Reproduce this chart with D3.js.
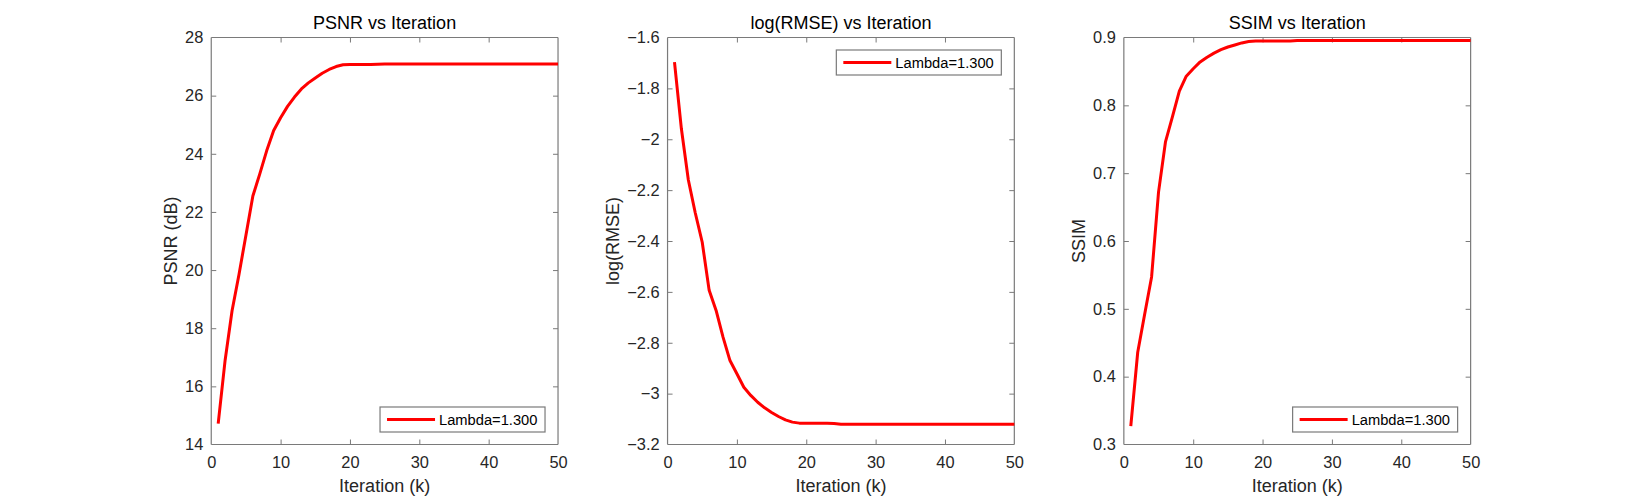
<!DOCTYPE html>
<html>
<head>
<meta charset="utf-8">
<script src="https://cdn.jsdelivr.net/npm/d3@7"></script>
<style>
  html, body { margin: 0; padding: 0; background: #fff; }
  svg { display: block; font-family: "Liberation Sans", Arial, Helvetica, sans-serif; }
</style>
</head>
<body>
<div id="chart"></div>
<script>
// iterations k = 1..50
var iterations = d3.range(1, 51)

var psnr = [14.72, 16.9, 18.6, 19.85, 21.2, 22.55, 23.31, 24.11, 24.8, 25.24,
    25.63, 25.95, 26.23, 26.44, 26.61, 26.77, 26.9, 27.0, 27.06, 27.07,
    27.07, 27.07, 27.07, 27.08, 27.09, 27.09, 27.09, 27.09, 27.09, 27.09,
    27.09, 27.09, 27.09, 27.09, 27.09, 27.09, 27.09, 27.09, 27.09, 27.09,
    27.09, 27.09, 27.09, 27.09, 27.09, 27.09, 27.09, 27.09, 27.09, 27.09]

var logRmse = [-1.697, -1.96, -2.16, -2.29, -2.405, -2.594, -2.673, -2.778, -2.87, -2.922,
    -2.975, -3.007, -3.034, -3.056, -3.074, -3.09, -3.103, -3.112, -3.116, -3.116,
    -3.116, -3.116, -3.116, -3.117, -3.12, -3.12, -3.12, -3.12, -3.12, -3.12,
    -3.12, -3.12, -3.12, -3.12, -3.12, -3.12, -3.12, -3.12, -3.12, -3.12,
    -3.12, -3.12, -3.12, -3.12, -3.12, -3.12, -3.12, -3.12, -3.12, -3.12]

var ssim = [0.327, 0.436, 0.492, 0.547, 0.672, 0.746, 0.783, 0.821, 0.843, 0.854,
    0.864, 0.871, 0.877, 0.882, 0.886, 0.889, 0.892, 0.894, 0.895, 0.895,
    0.895, 0.895, 0.895, 0.895, 0.8955, 0.8955, 0.8955, 0.8955, 0.8955, 0.8955,
    0.8955, 0.8955, 0.8955, 0.8955, 0.8955, 0.8955, 0.8955, 0.8955, 0.8955, 0.8955,
    0.8955, 0.8955, 0.8955, 0.8955, 0.8955, 0.8955, 0.8955, 0.8955, 0.8955, 0.8955]

var titles = ['PSNR vs Iteration', 'log(RMSE) vs Iteration', 'SSIM vs Iteration']
var yLabels = ['PSNR (dB)', 'log(RMSE)', 'SSIM']
var xLabel = 'Iteration (k)'
var xTicks = [0, 10, 20, 30, 40, 50]
var yDomains = [[14, 28], [-3.2, -1.6], [0.3, 0.9]]
var yTicks = [
    [14, 16, 18, 20, 22, 24, 26, 28],
    [-3.2, -3, -2.8, -2.6, -2.4, -2.2, -2, -1.8, -1.6],
    [0.3, 0.4, 0.5, 0.6, 0.7, 0.8, 0.9]
]
var legendLabel = 'Lambda=1.300'
var legendPlace = ['bottom', 'top', 'bottom']

var width = 1625, height = 500
var axisColor = '#7a7a7a', textColor = '#262626'

var panels = [psnr, logRmse, ssim].map(function (vals, i) {
    return {
        title: titles[i],
        ylabel: yLabels[i],
        domain: yDomains[i],
        ticks: yTicks[i],
        legend: legendPlace[i],
        values: vals.map(function (v, j) { return { k: iterations[j], v: v } })
    }
})

// matlab-like subplot positions
var lefts = [0.13, 0.4108, 0.6916].map(function (f) { return f * width })
var pw = 0.2134 * width
var plotTop = 37.5, plotBottom = 444.5

var svg = d3.select('#chart')
    .append('svg')
    .attr('width', width)
    .attr('height', height)

svg.selectAll('.panel')
    .data(panels)
    .join('g')
    .attr('class', 'panel')
    .attr('transform', function (d, i) { return 'translate(' + lefts[i] + ',0)' })
    .each(function (d) {
        var g = d3.select(this)

        var x = d3.scaleLinear().domain([0, 50]).range([0, pw])
        var y = d3.scaleLinear().domain(d.domain).range([plotBottom, plotTop])

        // bottom axis + labels
        var xAxis = g.append('g')
            .attr('transform', 'translate(0,' + plotBottom + ')')
            .call(d3.axisBottom(x).tickValues(xTicks).tickSize(-5).tickPadding(12).tickFormat(d3.format('d')))
        // top ticks
        var xTop = g.append('g')
            .attr('transform', 'translate(0,' + plotTop + ')')
            .call(d3.axisTop(x).tickValues(xTicks).tickSize(-5).tickFormat(''))
        // left axis
        var yAxis = g.append('g')
            .call(d3.axisLeft(y).tickValues(d.ticks).tickSize(-5).tickPadding(8).tickFormat(d3.format('')))
        // right ticks
        var yRight = g.append('g')
            .attr('transform', 'translate(' + pw + ',0)')
            .call(d3.axisRight(y).tickValues(d.ticks).tickSize(-5).tickFormat(''))

        ;[xAxis, xTop, yAxis, yRight].forEach(function (a) {
            a.select('.domain').attr('stroke', axisColor).attr('stroke-width', 1.2)
            a.selectAll('.tick line').attr('stroke', axisColor).attr('stroke-width', 1)
            a.selectAll('.tick text')
                .attr('fill', textColor)
                .style('font-size', '16.4px')
        })
        // first/last ticks sit on the box, drop their marks
        xTop.selectAll('.tick').filter(function (t) { return t == 0 || t == 50 }).remove()
        yRight.selectAll('.tick').filter(function (t, i) { return i == 0 || i == d.ticks.length - 1 }).remove()
        xAxis.selectAll('.tick line').filter(function (t) { return t == 0 || t == 50 }).remove()
        yAxis.selectAll('.tick line').filter(function (t, i) { return i == 0 || i == d.ticks.length - 1 }).remove()
        xAxis.select('.domain').attr('d', 'M0,0H' + pw)
        xTop.select('.domain').attr('d', 'M0,0H' + pw)
        yAxis.select('.domain').attr('d', 'M0,' + plotTop + 'V' + plotBottom)
        yRight.select('.domain').attr('d', 'M0,' + plotTop + 'V' + plotBottom)

        // data line
        var line = d3.line()
            .x(function (p) { return x(p.k) })
            .y(function (p) { return y(p.v) })

        g.append('path')
            .datum(d.values)
            .attr('d', line)
            .attr('fill', 'none')
            .attr('stroke', '#ff0000')
            .attr('stroke-width', 3)
            .attr('stroke-linejoin', 'round')

        // title
        g.append('text')
            .attr('x', pw / 2)
            .attr('y', 29)
            .attr('text-anchor', 'middle')
            .attr('fill', '#000')
            .style('font-size', '18px')
            .text(d.title)

        // x label
        g.append('text')
            .attr('x', pw / 2)
            .attr('y', 492)
            .attr('text-anchor', 'middle')
            .attr('fill', textColor)
            .style('font-size', '18px')
            .text(xLabel)

        // y label, placed left of widest tick label
        var bb = yAxis.node().getBBox()
        g.append('text')
            .attr('transform', 'translate(' + (bb.x - 8) + ',' + ((plotTop + plotBottom) / 2) + ') rotate(-90)')
            .attr('text-anchor', 'middle')
            .attr('fill', textColor)
            .style('font-size', '18px')
            .text(d.ylabel)

        // legend
        var lw = 165, lh = 25
        var lx = pw - 13 - lw
        var ly = d.legend == 'top' ? plotTop + 12.5 : plotBottom - 12.5 - lh
        var leg = g.append('g').attr('transform', 'translate(' + lx + ',' + ly + ')')
        leg.append('rect')
            .attr('width', lw).attr('height', lh)
            .attr('fill', '#fff')
            .attr('stroke', axisColor)
            .attr('stroke-width', 1.2)
        leg.append('line')
            .attr('x1', 7).attr('x2', 55)
            .attr('y1', lh / 2).attr('y2', lh / 2)
            .attr('stroke', '#ff0000')
            .attr('stroke-width', 3)
        leg.append('text')
            .attr('x', 59)
            .attr('y', lh / 2 + 5.3)
            .attr('fill', '#000')
            .style('font-size', '14.7px')
            .text(legendLabel)
    })
</script>
</body>
</html>
